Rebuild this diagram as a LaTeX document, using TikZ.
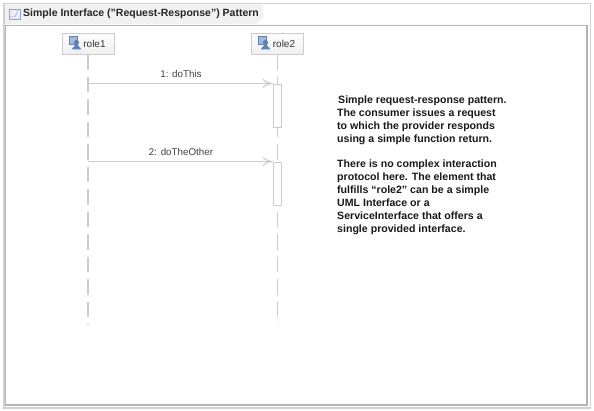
\documentclass[tikz,border=0pt]{standalone}
\usepackage{fontspec}
\setmainfont{Liberation Sans}
\usetikzlibrary{arrows.meta,calc}
\definecolor{frameg}{HTML}{B4B4B4}
\definecolor{lineg}{HTML}{CCCCCC}
\definecolor{tabg}{HTML}{F1F1F1}
\definecolor{boxg}{HTML}{EFEFEF}
\definecolor{iconb}{HTML}{5F7FB5}
\tikzset{
  px/.style={x=1pt,y=-1pt},
  role/.style={draw=lineg,line width=0.9pt,top color=white,bottom color=boxg,minimum width=52pt,minimum height=21pt,inner sep=0pt,font=\fontsize{10}{12}\selectfont,text=black!80},
  lifeline/.style={draw=lineg,line width=1.2pt,dash pattern=on 15.5pt off 7pt},
  activation/.style={draw=lineg,line width=0.9pt,fill=white,minimum width=8.5pt,inner sep=0pt},
  message/.style={draw=lineg,line width=1pt,-{To[length=10pt,width=9pt]}},
  msglabel/.style={font=\fontsize{9.8}{12}\selectfont,text=black!75,inner sep=0pt},
  note/.style={font=\bfseries\fontsize{10.6}{13}\selectfont,align=left,anchor=north west,inner sep=0pt,text=black!90},
}
\newcommand{\roleicon}[1]{%
  \fill[iconb!55] ($(#1)+(-6,-6.5)$) rectangle ++(8,8);
  \draw[iconb,line width=0.5pt] ($(#1)+(-6,-6.5)$) rectangle ++(8,8);
  \fill[iconb] ($(#1)+(1.5,-0.5)$) circle (2.6pt);
  \fill[iconb] ($(#1)+(-3.5,6.5)$) -- ++(5,-6) -- ++(5,6) -- cycle;
}
\begin{document}
\begin{tikzpicture}[px]
\useasboundingbox (0,0) rectangle (594,411);
\fill[white] (0,0) rectangle (594,411);
% outer frame
\draw[draw=black!18,line width=1.2pt] (4,3.5) rectangle (590.5,408);
\draw[draw=frameg,line width=1.4pt,fill=white] (5.5,25.5) rectangle (587,405);
% tab
\fill[tabg] (5,4.5) -- (263,4.5) -- (263,17) -- (256,24.5) -- (5,24.5) -- cycle;
\node[anchor=west,inner sep=0pt,font=\bfseries\fontsize{10.5}{12}\selectfont,text=black!85] (title) at (23,13.5) {Simple Interface ("Request-Response") Pattern};
\draw[draw=iconb!70,fill=iconb!12,line width=0.7pt] (9,9) rectangle (20,19);
\draw[draw=iconb!70,line width=0.5pt] (9,17) -- (15,17) -- (18,10);
% roles
\node[role] (r1) at (88,43.5) {\hspace*{13pt}role1};
\node[role] (r2) at (277.5,43.5) {\hspace*{13pt}role2};
\roleicon{75,43}
\roleicon{264,43}
% lifelines
\coordinate (e1) at (88,325);
\coordinate (e2) at (277.5,325);
\draw[lifeline] (r1.south) -- (e1);
\draw[lifeline] (r2.south) -- (e2);
% activations
\node[activation,anchor=north,minimum height=43pt] (a1) at (277.5,84) {};
\node[activation,anchor=north,minimum height=43pt] (a2) at (277.5,162.5) {};
% messages
\coordinate (m1) at (88,83.5);
\coordinate (m2) at (88,161.5);
\draw[message] (m1) -- (m1 -| a1.west);
\draw[message] (m2) -- (m2 -| a2.west);
\node[msglabel] (l1) at (181,74.5) {1: doThis};
\node[msglabel] (l2) at (181,152) {2: doTheOther};
% note
\node[note] (n) at (337,96) {\hspace*{1pt}Simple request-response pattern.\\The consumer issues a request\\to which the provider responds\\using a simple function return.\\[12pt]There is no complex interaction\\protocol here.  The element that\\fulfills “role2” can be a simple\\UML Interface or a\\ServiceInterface that offers a\\single provided interface.};
\end{tikzpicture}
\end{document}
